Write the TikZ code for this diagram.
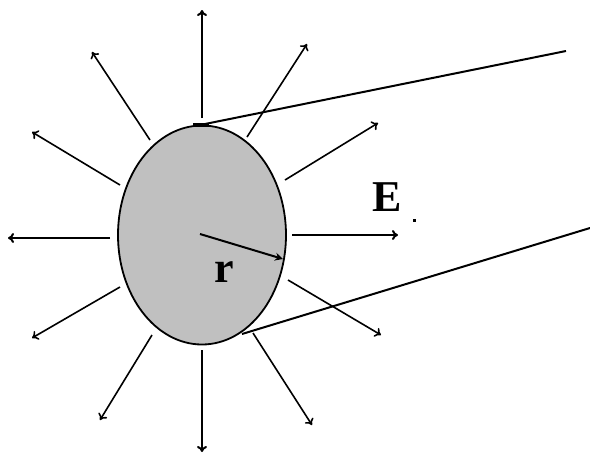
\documentclass[tikz,border=0pt]{standalone}
\usepackage{fontspec}
\setmainfont{Liberation Serif}
\usetikzlibrary{arrows.meta,shapes.geometric}
\begin{document}
\begin{tikzpicture}[x=1pt,y=-1pt,
  field/.style={line width=1.6pt,-{To[length=6pt,width=10pt]}},
  axisfield/.style={line width=2pt,-{To[length=6pt,width=10pt]}},
  tangent/.style={line width=2pt},
  lbl/.style={font=\fontsize{44}{44}\selectfont\bfseries,inner sep=0pt}]
\useasboundingbox (0,0) rectangle (590,456);
\fill[white] (0,0) rectangle (590,456);
\node[ellipse,draw,line width=1.8pt,fill={rgb,255:red,192;green,192;blue,192},
      minimum width=168pt,minimum height=219pt,inner sep=0pt] (ball) at (202,235) {};
% coordinates
\coordinate (u0) at (202,118); \coordinate (u1) at (202,10);
\coordinate (d0) at (202,350); \coordinate (d1) at (202,452);
\coordinate (l0) at (110,238); \coordinate (l1) at (8,238);
\coordinate (r0) at (292,235); \coordinate (r1) at (398,235);
\coordinate (a0) at (150,140); \coordinate (a1) at (92,52);
\coordinate (b0) at (120,185); \coordinate (b1) at (32,132);
\coordinate (c0) at (120,287); \coordinate (c1) at (32,338);
\coordinate (e0) at (152,335); \coordinate (e1) at (100,420);
\coordinate (f0) at (247,137); \coordinate (f1) at (307,44);
\coordinate (g0) at (285,180); \coordinate (g1) at (378,123);
\coordinate (h0) at (288,280); \coordinate (h1) at (381,335);
\coordinate (k0) at (253,333); \coordinate (k1) at (312,425);
\coordinate (rc) at (200,234); \coordinate (rt) at (283,259);
\coordinate (t1a) at (200,125); \coordinate (t1b) at (566,51);
\coordinate (t2a) at (242,334); \coordinate (t2b) at (590,228);
% field lines
\draw[axisfield] (u0) -- (u1);
\draw[axisfield] (d0) -- (d1);
\draw[axisfield] (l0) -- (l1);
\draw[axisfield] (r0) -- (r1);
\draw[field] (a0) -- (a1);
\draw[field] (b0) -- (b1);
\draw[field] (c0) -- (c1);
\draw[field] (e0) -- (e1);
\draw[field] (f0) -- (f1);
\draw[field] (g0) -- (g1);
\draw[field] (h0) -- (h1);
\draw[field] (k0) -- (k1);
% radius
\draw[line width=2pt,-{Stealth[length=8pt,width=8pt]}] (rc) -- (rt);
% tangent lines
\draw[tangent] (t1a) -- (t1b);
\draw[tangent] (t2a) -- (t2b);
\draw[line width=4pt] (193,125) -- (209,125);
% labels
\node[lbl] (rl) at (224,272) {r};
\node[lbl] (El) at (387,197) {E};
\fill (413,219) rectangle (416,222);
\end{tikzpicture}
\end{document}
